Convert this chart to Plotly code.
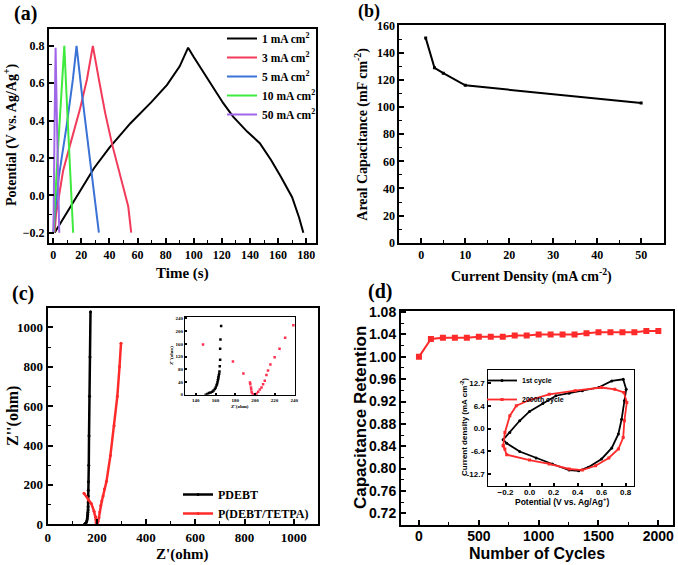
import plotly.graph_objects as go

# ---------------- data ----------------
# (a) galvanostatic charge/discharge
t_1mA = [1, 5, 10, 15, 20, 29, 40, 55, 70, 81, 90, 96, 100, 107, 114, 121, 128, 138, 147, 155, 162, 170, 175, 178]
v_1mA = [-0.2, -0.15, -0.085, -0.025, 0.035, 0.145, 0.255, 0.386, 0.50, 0.591, 0.69, 0.79, 0.74, 0.66, 0.573, 0.493, 0.421, 0.341, 0.279, 0.189, 0.10, -0.01, -0.12, -0.2]
t_3mA = [1, 2, 4, 7, 12, 19, 24, 28.2, 33, 37, 42, 47, 51, 53.4, 55.5]
v_3mA = [-0.2, -0.1, -0.01, 0.13, 0.27, 0.46, 0.62, 0.8, 0.6, 0.44, 0.27, 0.13, 0.02, -0.06, -0.2]
t_5mA = [0.5, 1, 4, 9.5, 14, 16.6, 20, 24, 28, 32.5]
v_5mA = [-0.2, -0.12, 0.1, 0.37, 0.62, 0.8, 0.57, 0.33, 0.08, -0.2]
t_10mA = [0.3, 0.8, 3, 6, 7.9, 10, 12, 14.2]
v_10mA = [-0.2, -0.1, 0.2, 0.58, 0.8, 0.45, 0.12, -0.2]
t_50mA = [0, 0.3, 1, 1.7, 2.5, 3.5, 4.3]
v_50mA = [-0.2, -0.1, 0.4, 0.79, 0.45, 0.05, -0.2]
gcd_names = ["1 mA cm<sup>2</sup>", "3 mA cm<sup>2</sup>", "5 mA cm<sup>2</sup>",
             "10 mA cm<sup>2</sup>", "50 mA cm<sup>2</sup>"]

# (b) areal capacitance
current_density = [1, 3, 5, 10, 50]
areal_cap = [151, 129, 125, 116, 103]

# (c) Nyquist
pdebt_zr = [150, 151.7, 153.3, 156.7, 159.3, 161, 162, 162.7, 163.3, 164, 164.3, 164.7, 164.7, 165, 165.7, 167, 168, 170, 172, 174]
pdebt_zi = [0, 1.9, 5, 9.5, 18, 28.6, 39, 50, 60, 72.5, 89, 110, 144, 173, 216, 300, 450, 650, 850, 1080]
pt_zr = [147.3, 165, 177.7, 188.3, 195, 196, 196.7, 199.3, 201.7, 205, 208.3, 211.7, 215.7, 220, 225, 230.7, 239, 255, 270, 283, 292, 298]
pt_zi = [158, 125, 104, 66.6, 38, 23, 7.6, 0, 3, 16, 33, 62, 95, 118, 144, 179, 218, 350, 500, 650, 800, 920]
# (c) inset points
ins_pdebt_zr = [150, 151.7, 153.3, 155, 156.7, 158, 159.3, 160.2, 161, 161.5, 162, 162.4, 162.7, 163, 163.3, 163.7, 164, 164.3, 164.7, 164.7, 165, 165.7]
ins_pdebt_zi = [0, 1.9, 5, 7, 9.5, 13, 18, 23, 28.6, 33, 39, 45, 50, 55, 60, 66, 72.5, 89, 110, 144, 173, 216]
ins_pt_zr = [147.3, 177.7, 188.3, 195, 195.3, 196, 196.3, 196.7, 197.7, 199.3, 201.7, 203.3, 205, 206.7, 208.3, 210, 211.7, 213.3, 215.7, 220, 225, 230.7, 239]
ins_pt_zi = [158, 104, 66.6, 38, 33, 23, 16, 7.6, 2.5, 0, 3, 9.5, 16, 23, 33, 44, 62, 76, 95, 118, 144, 179, 218]

# (d) cycling
cycles = [0, 100, 200, 300, 400, 500, 600, 700, 800, 900, 1000, 1100, 1200, 1300, 1400, 1500, 1600, 1700, 1800, 1900, 2000]
retention = [1.000, 1.032, 1.034, 1.034, 1.034, 1.036, 1.036, 1.036, 1.038, 1.038, 1.040, 1.040, 1.040, 1.040,
             1.042, 1.044, 1.044, 1.044, 1.044, 1.046, 1.046]
# (d) inset CV
cv1_v = [-0.219, -0.164, -0.082, 0.0, 0.11, 0.22, 0.33, 0.44, 0.575, 0.685, 0.78, 0.805, 0.79, 0.767, 0.74, 0.685,
         0.60, 0.49, 0.41, 0.33, 0.19, 0.055, -0.082, -0.19, -0.219]
cv1_j = [-3.1, -1.07, 2.2, 4.8, 7.0, 9.2, 9.9, 10.6, 11.5, 13.35, 13.8, 11.0, 7.8, 2.65, -1.5, -5.4,
         -8.5, -10.8, -11.8, -11.6, -9.9, -8.2, -6.4, -4.1, -3.1]
cv2000_v = [-0.219, -0.205, -0.164, -0.11, 0.0, 0.164, 0.38, 0.6, 0.71, 0.786, 0.81, 0.79, 0.78, 0.74, 0.66, 0.55,
            0.44, 0.33, 0.164, 0.0, -0.19, -0.205, -0.219]
cv2000_j = [-4.8, -1.07, 3.6, 6.4, 8.0, 9.6, 10.6, 11.5, 11.0, 10.1, 7.3, 2.2, -2.5, -5.7, -8.2, -10.4,
            -11.6, -11.3, -9.9, -8.8, -7.3, -5.7, -4.8]
cv_ticks = [-12.7, -6.4, 0.0, 6.4, 12.7]
cv_ticktext = ["-12.7", "-6.4", "0.0", "6.4", "12.7"]

# ---------------- figure ----------------
SERIF = "Liberation Serif"
SANS = "Liberation Sans"
W, H = 678, 565
fig = go.Figure()

gcd_colors = ["#000000", "#F23A5A", "#3A72D6", "#3EEA3E", "#A066E8"]
for tt, vv, nm, col in zip([t_1mA, t_3mA, t_5mA, t_10mA, t_50mA],
                           [v_1mA, v_3mA, v_5mA, v_10mA, v_50mA], gcd_names, gcd_colors):
    fig.add_trace(go.Scatter(x=tt, y=vv, name=nm, mode="lines", line=dict(color=col, width=2),
                             xaxis="x", yaxis="y", legend="legend"))

fig.add_trace(go.Scatter(x=current_density, y=areal_cap, mode="lines+markers",
                         line=dict(color="black", width=2), marker=dict(symbol="square", size=3, color="black"),
                         xaxis="x2", yaxis="y2", showlegend=False))

fig.add_trace(go.Scatter(x=pdebt_zr, y=pdebt_zi, name="PDEBT", mode="lines+markers",
                         line=dict(color="black", width=2.5), marker=dict(size=3, color="black"),
                         xaxis="x3", yaxis="y3", legend="legend2"))
fig.add_trace(go.Scatter(x=pt_zr, y=pt_zi, name="P(DEBT/TETPA)", mode="lines+markers",
                         line=dict(color="#FF2A2A", width=2.5), marker=dict(size=3, color="#FF2A2A"),
                         xaxis="x3", yaxis="y3", legend="legend2"))
fig.add_trace(go.Scatter(x=ins_pdebt_zr, y=ins_pdebt_zi, mode="markers",
                         marker=dict(size=2.5, color="black", symbol="square"),
                         xaxis="x4", yaxis="y4", showlegend=False))
fig.add_trace(go.Scatter(x=ins_pt_zr, y=ins_pt_zi, mode="markers",
                         marker=dict(size=2.5, color="#FF3050", symbol="square"),
                         xaxis="x4", yaxis="y4", showlegend=False))

fig.add_trace(go.Scatter(x=cycles, y=retention, mode="lines+markers",
                         line=dict(color="#FF2A2A", width=2), marker=dict(symbol="square", size=6, color="#FF2A2A"),
                         xaxis="x5", yaxis="y5", showlegend=False))
fig.add_trace(go.Scatter(x=cv1_v, y=cv1_j, name="1st cycle", mode="lines+markers",
                         line=dict(color="black", width=1.8), marker=dict(size=3, color="black"),
                         xaxis="x6", yaxis="y6", legend="legend3"))
fig.add_trace(go.Scatter(x=cv2000_v, y=cv2000_j, name="2000th cycle", mode="lines+markers",
                         line=dict(color="#FF2A2A", width=1.8), marker=dict(size=3, symbol="square", color="#FF2A2A"),
                         xaxis="x6", yaxis="y6", legend="legend3"))


def px_x(a, b):
    return [a / W, b / W]


def px_y(top, bottom):
    return [1 - bottom / H, 1 - top / H]


def ax(domain, rng, dtick, fsize, family, minor=None, ticklen=5, fmt=None, anchor=None, **kw):
    d = dict(domain=domain, range=rng, dtick=dtick, showline=True, linecolor="black", linewidth=2,
             mirror=True, ticks="inside", ticklen=ticklen, tickwidth=1.5, tickcolor="black",
             showgrid=False, zeroline=False, automargin=False,
             tickfont=dict(family=family, size=fsize, color="black", weight="bold"), anchor=anchor)
    if minor is not None:
        d["minor"] = dict(dtick=minor, ticks="inside", ticklen=ticklen * 0.6, tickcolor="black", tickwidth=1,
                          showgrid=False)
    if fmt:
        d["tickformat"] = fmt
    d.update(kw)
    return d


fig.update_layout(
    width=W, height=H, margin=dict(l=0, r=0, t=0, b=0, autoexpand=False),
    paper_bgcolor="white", plot_bgcolor="white",
    xaxis=ax(px_x(49, 316), [-3, 187], 20, 12, SERIF, minor=10, anchor="y"),
    yaxis=ax(px_y(29, 243), [-0.255, 0.89], 0.2, 12, SERIF, minor=0.1, fmt=".1f", anchor="x"),
    xaxis2=ax(px_x(399.3, 664), [-5, 55.2], 10, 12, SERIF, minor=5, anchor="y2"),
    yaxis2=ax(px_y(25, 242.7), [0, 160.5], 20, 12, SERIF, minor=10, anchor="x2"),
    xaxis3=ax(px_x(47.7, 318.3), [0, 1100], 200, 13, SERIF, minor=100, anchor="y3"),
    yaxis3=ax(px_y(307.7, 524.3), [0, 1100], 200, 13, SERIF, minor=100, anchor="x3"),
    xaxis4=ax(px_x(185, 295.3), [129, 241], 20, 5, SERIF, ticklen=2, anchor="y4", linewidth=1),
    yaxis4=ax(px_y(316.7, 394.7), [0, 245], 40, 5, SERIF, ticklen=2, anchor="x4", linewidth=1),
    xaxis5=ax(px_x(401, 673.3), [-150, 2125], 500, 14, SANS, minor=250, anchor="y5", ticklabelstandoff=-3),
    yaxis5=ax(px_y(311, 525), [0.699, 1.082], 0.04, 14, SANS, minor=0.02, fmt=".2f", anchor="x5"),
    xaxis6=ax(px_x(487.5, 634), [-0.35, 0.87], 0.2, 8, SANS, ticklen=3, fmt=".1f", anchor="y6", linewidth=1.2,
              ticklabelstandoff=-2),
    yaxis6=ax(px_y(370, 486), [-16.06, 16.4], None, 8, SANS, ticklen=3, anchor="x6", linewidth=1.2,
              tickvals=cv_ticks, ticktext=cv_ticktext),
    legend=dict(x=222 / W, y=1 - 24 / H, xanchor="left", yanchor="top", bgcolor="rgba(0,0,0,0)",
                font=dict(family=SERIF, size=11.5, color="black", weight="bold"), tracegroupgap=0,
                itemwidth=30),
    legend2=dict(x=178 / W, y=1 - 480 / H, xanchor="left", yanchor="top", bgcolor="rgba(0,0,0,0)",
                 font=dict(family=SERIF, size=12, color="black", weight="bold")),
    legend3=dict(x=482 / W, y=1 - 366 / H, xanchor="left", yanchor="top", bgcolor="rgba(0,0,0,0)",
                 font=dict(family=SANS, size=7, color="black", weight="bold"), itemwidth=30),
)


def ann(text, xp, yp, size, family, angle=0, yanchor="middle", borderpad=1):
    fig.add_annotation(text=text, x=xp / W, y=1 - yp / H, xref="paper", yref="paper", showarrow=False,
                       textangle=angle, xanchor="center", yanchor=yanchor, borderpad=borderpad,
                       font=dict(family=family, size=size, color="black", weight="bold"))


ann("(a)", 25, 13, 20, SERIF)
ann("(b)", 369, 0, 18, SERIF, yanchor="top", borderpad=0)
ann("(c)", 23, 293, 20, SERIF)
ann("(d)", 380, 291, 20, SERIF)
ann("Time (s)", 182.5, 273, 15, SERIF)
ann("Potential (V vs. Ag/Ag<sup>+</sup>)", 10, 135, 14, SERIF, -90)
ann("Current Density (mA cm<sup>-2</sup>)", 531, 275, 14, SERIF)
ann("Areal Capacitance (mF cm<sup>-2</sup>)", 361.7, 134, 14, SERIF, -90)
ann("Z'(ohm)", 182.5, 554, 15, SERIF)
ann("Z''(ohm)", 13, 416, 16, SERIF, -90)
ann("Z'(ohm)", 240, 406, 5, SERIF)
ann("Z''(ohm)", 171, 356, 5, SERIF, -90)
ann("Number of Cycles", 537, 553, 16, SANS)
ann("Capacitance Retention", 360, 418, 17, SANS, -90)
ann("Potential (V vs. Ag/Ag<sup>+</sup>)", 561.7, 501, 8.5, SANS)
ann("Current density (mA cm<sup>-2</sup>)", 464, 427, 8, SANS, -90)

fig.write_html("out.html", config={"displayModeBar": False},
               post_script="document.body.style.margin='0px';")
